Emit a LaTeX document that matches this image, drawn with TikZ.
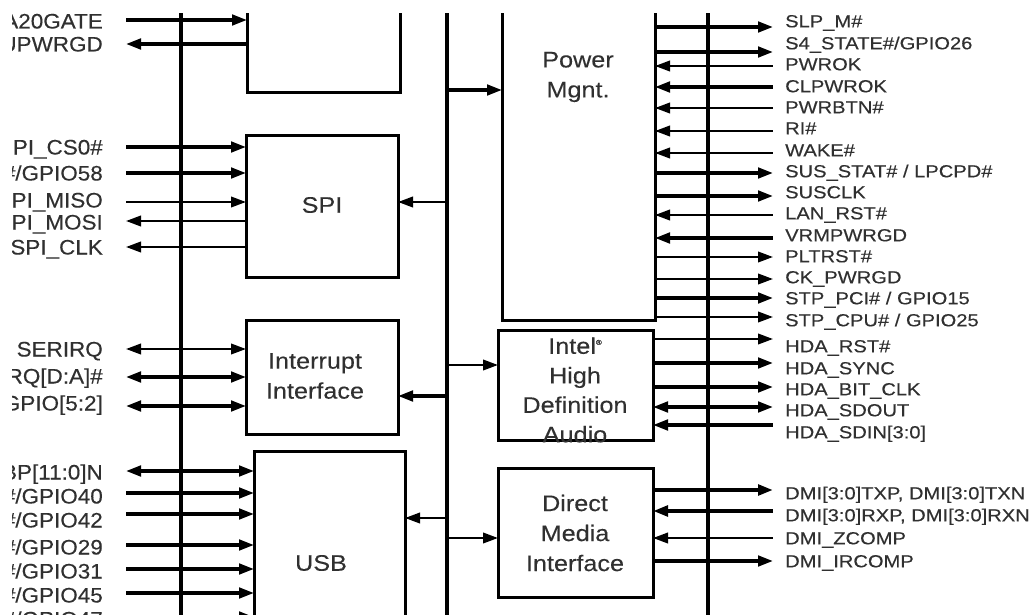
\documentclass[tikz,border=0pt]{standalone}
\usepackage{fontspec}
\setmainfont{Liberation Sans}[FakeStretch=1.15]
\newfontfamily\leftfont{Liberation Sans}[FakeStretch=1.07, FakeBold=0.3]
\newfontfamily\rightfont{Liberation Sans}[FakeStretch=1.15, FakeBold=0.3]
\newfontfamily\boxfont{Liberation Sans}[FakeStretch=1.12, FakeBold=0.2]
\usetikzlibrary{arrows.meta,calc}
\definecolor{lbl}{HTML}{303030}
\tikzset{
 bus/.style={line width=3.6pt},
 box/.style={draw, line width=3pt, inner sep=0pt, outer sep=0pt},
 sigthin/.style={line width=2.2pt},
 sigthick/.style={line width=3.2pt},
 sigvthick/.style={line width=4.2pt},
 tipR/.style={-{Triangle[length=15pt,width=10.5pt]}},
 tipL/.style={{Triangle[length=15pt,width=10.5pt]}-},
 tipB/.style={{Triangle[length=15pt,width=10.5pt]}-{Triangle[length=15pt,width=10.5pt]}},
 lablft/.style={anchor=base east, text=lbl, font=\leftfont\fontsize{21}{22}\selectfont, inner sep=0pt},
 labrgt/.style={anchor=base west, text=lbl, font=\rightfont\fontsize{17.5}{20}\selectfont, inner sep=0pt},
 boxtext/.style={text=lbl, font=\boxfont\fontsize{22.5}{30}\selectfont, align=center, inner sep=0pt},
}
\newcommand{\RSig}[7]{%
 \coordinate (#1e) at (773,#3);
 \node[labrgt] (#1) at (785,{#2+6.3}) {#7};
 \draw[#5,#6] (#4.east |- #1e) -- (#1e);
}
\newcommand{\LSig}[7]{%
 \coordinate (#1e) at (126,#2);
 \node[lablft] (#1) at (103,{#3+7.5}) {#7};
 \draw[#5,#6] (#1e) -- (#4.west |- #1e);
}
\begin{document}
\begin{tikzpicture}[x=1pt,y=-1pt]
\useasboundingbox (0,0) rectangle (1033,615);
\clip (12,14) rectangle (1033,615);

% buses
\coordinate (lbt) at (181,13); \coordinate (lbb) at (181,620);
\coordinate (cbt) at (447,13); \coordinate (cbb) at (447,620);
\coordinate (rbt) at (708,13); \coordinate (rbb) at (708,620);
\draw[bus] (lbt) -- (lbb);
\draw[bus] (cbt) -- (cbb);
\draw[bus] (rbt) -- (rbb);

% boxes
\node[box, minimum width=153pt, minimum height=133pt] (topb) at (323.5,26.5) {};
\node[box, minimum width=152pt, minimum height=141pt] (spi) at (322,206.5) {};
\node[box, minimum width=152pt, minimum height=114pt] (intr) at (322,377) {};
\node[box, minimum width=151pt, minimum height=249pt] (usb) at (329.5,575.5) {};
\node[box, minimum width=153pt, minimum height=360pt] (pm) at (578.5,140) {};
\node[box, minimum width=155pt, minimum height=110pt] (hda) at (575.5,385) {};
\node[box, minimum width=155pt, minimum height=129pt] (dmi) at (575.5,532.5) {};

% box texts
\node[boxtext] (spit) at (322,205) {SPI};
\node[boxtext] (intrt) at (315,376) {Interrupt\\Interface};
\node[boxtext] (usbt) at (321,563) {USB};
\node[boxtext] (pmt) at (578,77) {Power\\Mgnt.};
\node[boxtext, font=\boxfont\fontsize{22.5}{29.5}\selectfont] (hdat) at (575,390) {Intel{\fontsize{7}{7}\selectfont\raisebox{9pt}{®}}\\High\\Definition\\Audio};
\node[boxtext] (dmit) at (575,533) {Direct\\Media\\Interface};

% bus connections
\coordinate (cpm) at (447,90);  \draw[sigthick,tipR] (cpm) -- (pm.west |- cpm);
\coordinate (cspi) at (447,202); \draw[sigthin,tipL] (spi.east |- cspi) -- (cspi);
\coordinate (chda) at (447,365); \draw[sigthin,tipR] (chda) -- (hda.west |- chda);
\coordinate (cint) at (447,396); \draw[sigthick,tipL] (intr.east |- cint) -- (cint);
\coordinate (cusb) at (447,518); \draw[sigthin,tipL] (usb.east |- cusb) -- (cusb);
\coordinate (cdmi) at (447,538); \draw[sigthin,tipR] (cdmi) -- (dmi.west |- cdmi);

% left signals: name, line y, label y, box, width, tip, text
\LSig{la}{20}{21}{topb}{sigthick}{tipR}{A20GATE}
\LSig{lb}{44}{44}{topb}{sigthick}{tipL}{CPUPWRGD}
\LSig{lc}{147}{147}{spi}{sigthick}{tipR}{SPI\_CS0\#}
\LSig{ld}{173}{173}{spi}{sigthick}{tipR}{SPI\_CS1\#/GPIO58}
\LSig{lf}{202}{200}{spi}{sigthin}{tipR}{SPI\_MISO}
\LSig{lg}{221}{222}{spi}{sigthin}{tipL}{SPI\_MOSI}
\LSig{lh}{247}{247}{spi}{sigthin}{tipL}{SPI\_CLK}
\LSig{li}{349}{349}{intr}{sigthin}{tipB}{SERIRQ}
\LSig{lj}{377}{376}{intr}{sigthick}{tipB}{PIRQ[D:A]\#}
\LSig{lk}{406}{403}{intr}{sigthick}{tipB}{PIRQ[H:E]\#/GPIO[5:2]}
\LSig{ll}{471}{472}{usb}{sigthick}{tipB}{USBP[11:0]N}
\LSig{lm}{493}{496}{usb}{sigthick}{tipR}{OC1\#/GPIO40}
\LSig{ln}{514}{520}{usb}{sigthick}{tipR}{OC3\#/GPIO42}
\LSig{lo}{545}{547}{usb}{sigthick}{tipR}{OC5\#/GPIO29}
\LSig{lp}{569}{571}{usb}{sigthick}{tipR}{OC7\#/GPIO31}
\LSig{lq}{593}{595}{usb}{sigthick}{tipR}{OC9\#/GPIO45}
\LSig{lr}{617}{619}{usb}{sigthick}{tipR}{OC11\#/GPIO47}

% right signals: name, label y, line y, box, width, tip, text
\RSig{ra}{21}{27}{pm}{sigthick}{tipR}{SLP\_M\#}
\RSig{rb}{43}{52}{pm}{sigthick}{tipR}{S4\_STATE\#/GPIO26}
\RSig{rc}{64}{66}{pm}{sigthin}{tipL}{PWROK}
\RSig{rd}{86}{87}{pm}{sigthick}{tipL}{CLPWROK}
\RSig{rf}{107}{108}{pm}{sigthin}{tipL}{PWRBTN\#}
\RSig{rg}{128}{131}{pm}{sigthin}{tipL}{RI\#}
\RSig{rh}{150}{153}{pm}{sigthin}{tipL}{WAKE\#}
\RSig{ri}{171}{173}{pm}{sigthick}{tipR}{SUS\_STAT\# / LPCPD\#}
\RSig{rj}{192}{196}{pm}{sigthick}{tipR}{SUSCLK}
\RSig{rk}{213}{215}{pm}{sigthin}{tipL}{LAN\_RST\#}
\RSig{rl}{235}{238}{pm}{sigthick}{tipL}{VRMPWRGD}
\RSig{rm}{256}{257}{pm}{sigthin}{tipR}{PLTRST\#}
\RSig{rn}{277}{279}{pm}{sigthin}{tipR}{CK\_PWRGD}
\RSig{ro}{298}{298}{pm}{sigthick}{tipR}{STP\_PCI\# / GPIO15}
\RSig{rp}{320}{317}{pm}{sigthin}{tipR}{STP\_CPU\# / GPIO25}
\RSig{rq}{346}{339}{hda}{sigthin}{tipR}{HDA\_RST\#}
\RSig{rr}{368}{363}{hda}{sigthick}{tipR}{HDA\_SYNC}
\RSig{rs}{389}{387}{hda}{sigthick}{tipR}{HDA\_BIT\_CLK}
\RSig{rt}{410}{407}{hda}{sigthick}{tipB}{HDA\_SDOUT}
\RSig{ru}{432}{425}{hda}{sigthick}{tipL}{HDA\_SDIN[3:0]}
\RSig{rv}{493}{490}{dmi}{sigvthick}{tipR}{DMI[3:0]TXP, DMI[3:0]TXN}
\RSig{rw}{515}{511}{dmi}{sigvthick}{tipL}{DMI[3:0]RXP, DMI[3:0]RXN}
\RSig{rx}{538}{538}{dmi}{sigthin}{tipL}{DMI\_ZCOMP}
\RSig{ry}{561}{561}{dmi}{sigthick}{tipR}{DMI\_IRCOMP}
\end{tikzpicture}
\end{document}
